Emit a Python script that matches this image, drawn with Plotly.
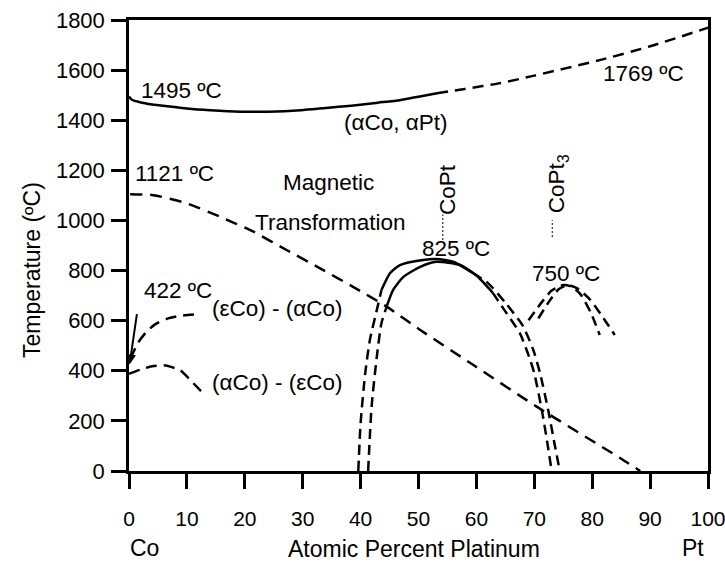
import plotly.graph_objects as go

# ---------------- data ----------------
# liquidus / solidus (solid part) and its dashed continuation to Pt
liq_solid_x = [0, 0.5, 1.9, 4, 6.5, 10, 14, 19.2, 24, 29.7, 34, 38.4, 43, 46.8, 50, 53.2]
liq_solid_t = [1495, 1482, 1472, 1463, 1456, 1447, 1440, 1434, 1434, 1440, 1449, 1458, 1470, 1480, 1494, 1508]
liq_dash_x = [53.2, 58, 64.1, 70, 81.3, 90, 100]
liq_dash_t = [1508, 1525, 1548, 1578, 1640, 1695, 1769]

# magnetic transformation
mag_x = [0.2, 4.2, 10, 15.7, 21.5, 27.2, 33, 38.7, 44.5, 50.3, 60, 70.4, 84.8, 88.3]
mag_t = [1105, 1101, 1068, 1015, 955, 882, 809, 735, 656, 563, 415, 257, 52, 0]

# (eCo)-(aCo) on heating and (aCo)-(eCo) on cooling
eps_up_x = [0.3, 1.5, 3, 4.5, 6.5, 9, 11.5]
eps_up_t = [450, 510, 555, 585, 607, 620, 625]
eps_dn_x = [0, 2, 4, 6, 8.8, 10.5, 12.8]
eps_dn_t = [388, 405, 418, 422, 403, 365, 310]

# CoPt ordering dome: outer curve
copt_o_l_x = [39.6, 40.0, 40.8, 41.6, 42.8, 43.6]
copt_o_l_t = [0, 191, 391, 523, 642, 722]
copt_o_s_x = [43.6, 45.1, 46.8, 50.8, 53.1, 56, 59.4]
copt_o_s_t = [722, 790, 822, 842, 846, 835, 790]
copt_o_r_x = [59.4, 62, 65, 68, 69.8, 71.0, 72.4, 73.4, 74.4]
copt_o_r_t = [790, 750, 672, 580, 485, 390, 243, 120, 0]
# CoPt ordering dome: inner curve
copt_i_l_x = [41.3, 41.9, 42.8, 43.6, 44.5]
copt_i_l_t = [0, 257, 456, 590, 656]
copt_i_s_x = [44.5, 45.6, 47.4, 50.3, 53.1, 57.2, 60, 62.8]
copt_i_s_t = [656, 722, 775, 815, 835, 822, 780, 712]
copt_i_r_x = [62.8, 65.2, 67.5, 69.1, 70.0, 71.3, 72.2, 73.0]
copt_i_r_t = [712, 630, 550, 456, 390, 243, 120, 0]

# CoPt3 ordering dome
copt3_a_x = [69.0, 71.0, 73.0, 75.0, 76.5, 78.0, 79.8, 81.3]
copt3_a_t = [602, 665, 720, 742, 735, 705, 630, 543]
copt3_b_x = [70.7, 72.5, 74.2, 75.8, 77.5, 79.6, 81.8, 83.9]
copt3_b_t = [609, 675, 725, 742, 728, 685, 615, 543]

# composition markers (dotted leaders under the phase names)
lead_x = [54.2, 73.1]
lead_t0 = [922, 934]
lead_t1 = [1024, 1001]

# text labels
lab_text = ["1495 ºC", "1769 ºC", "(αCo, αPt)", "1121 ºC", "Magnetic", "Transformation",
            "825 ºC", "750 ºC", "422 ºC", "(εCo) - (αCo)", "(αCo) - (εCo)"]
lab_x = [9.15, 88.9, 46.1, 7.8, 34.5, 34.7, 56.5, 75.5, 8.5, 25.6, 25.6]
lab_t = [1520, 1588, 1390, 1189, 1153, 990, 890, 790, 722, 650, 355]
phase_text = ["CoPt", "CoPt<sub>3</sub>"]
phase_x = [54.9, 74.1]
phase_t = [1125, 1145]

arrow_from = (1.4, 632)
arrow_to = (0.1, 425)

x_ticks = list(range(0, 101, 10))
y_ticks = list(range(0, 1801, 200))

FONT = "Liberation Sans, Arial, sans-serif"
K = "black"

fig = go.Figure()

def add(x, y, dash, w=2.5):
    fig.add_trace(go.Scatter(x=x, y=y, mode="lines", hoverinfo="skip",
                             line=dict(color=K, width=w, dash=dash, shape="spline", smoothing=0.6)))

DASH = "11px,7px"
add(liq_solid_x, liq_solid_t, "solid")
add(liq_dash_x, liq_dash_t, DASH)
add(mag_x, mag_t, "12px,8px")
add(eps_up_x, eps_up_t, DASH)
add(eps_dn_x, eps_dn_t, DASH)
add(copt_o_l_x, copt_o_l_t, "10px,6px")
add(copt_o_s_x, copt_o_s_t, "solid")
add(copt_o_r_x, copt_o_r_t, "10px,6px")
add(copt_i_l_x, copt_i_l_t, "10px,6px")
add(copt_i_s_x, copt_i_s_t, "solid")
add(copt_i_r_x, copt_i_r_t, "10px,6px")
add(copt3_a_x, copt3_a_t, "10px,6px")
add(copt3_b_x, copt3_b_t, "10px,6px")
for lx, a, b in zip(lead_x, lead_t0, lead_t1):
    fig.add_trace(go.Scatter(x=[lx, lx], y=[a, b], mode="lines", hoverinfo="skip",
                             line=dict(color=K, width=1, dash="2px,2px")))

ann = []
for t, x, y in zip(lab_text, lab_x, lab_t):
    ann.append(dict(x=x, y=y, text=t, showarrow=False, font=dict(size=22.5, family=FONT, color=K)))
for t, x, y in zip(phase_text, phase_x, phase_t):
    ann.append(dict(x=x, y=y, text=t, showarrow=False, textangle=-90,
                    font=dict(size=22.5, family=FONT, color=K)))
ann.append(dict(x=arrow_to[0], y=arrow_to[1], ax=arrow_from[0], ay=arrow_from[1],
                axref="x", ayref="y", showarrow=True, arrowhead=2, arrowsize=1,
                arrowwidth=2, arrowcolor=K, text=""))
# axis titles and element names
ann.append(dict(x=49.2, y=0, yref="y", text="Atomic Percent Platinum", showarrow=False,
                xanchor="center", yanchor="middle",
                yshift=-78, font=dict(size=23, family=FONT, color=K)))
ann.append(dict(x=2.6, y=0, text="Co", showarrow=False, yshift=-77,
                xanchor="center", yanchor="middle",
                font=dict(size=23, family=FONT, color=K)))
ann.append(dict(x=97.4, y=0, text="Pt", showarrow=False, yshift=-77,
                xanchor="center", yanchor="middle",
                font=dict(size=23, family=FONT, color=K)))
ann.append(dict(x=0, xref="paper", y=802, text="Temperature (ºC)", showarrow=False,
                xanchor="center", yanchor="middle",
                textangle=-90, xshift=-97, font=dict(size=23, family=FONT, color=K)))

fig.update_layout(
    width=725, height=563, showlegend=False,
    margin=dict(l=129, r=17, t=20, b=92, autoexpand=False),
    paper_bgcolor="white", plot_bgcolor="white",
    font=dict(family=FONT, color=K, size=21),
    annotations=ann,
    xaxis=dict(range=[0, 100], tickvals=x_ticks, ticks="outside", ticklen=15, tickwidth=2.5,
               tickcolor=K, showline=True, linewidth=2.5, linecolor=K, mirror=True,
               showgrid=False, zeroline=False, ticklabelstandoff=12,
               ticklabeloverflow="allow", automargin=False,
               tickfont=dict(size=21, family=FONT, color=K)),
    yaxis=dict(range=[0, 1800], tickvals=y_ticks, ticks="outside", ticklen=15, tickwidth=2.5,
               tickcolor=K, showline=True, linewidth=2.5, linecolor=K, mirror=True,
               showgrid=False, zeroline=False, ticklabelstandoff=2,
               ticklabeloverflow="allow", automargin=False,
               tickfont=dict(size=22, family=FONT, color=K)),
)

fig.write_html("out.html", config={"displayModeBar": False},
               post_script="document.body.style.margin='0px';document.body.style.overflow='hidden';")
